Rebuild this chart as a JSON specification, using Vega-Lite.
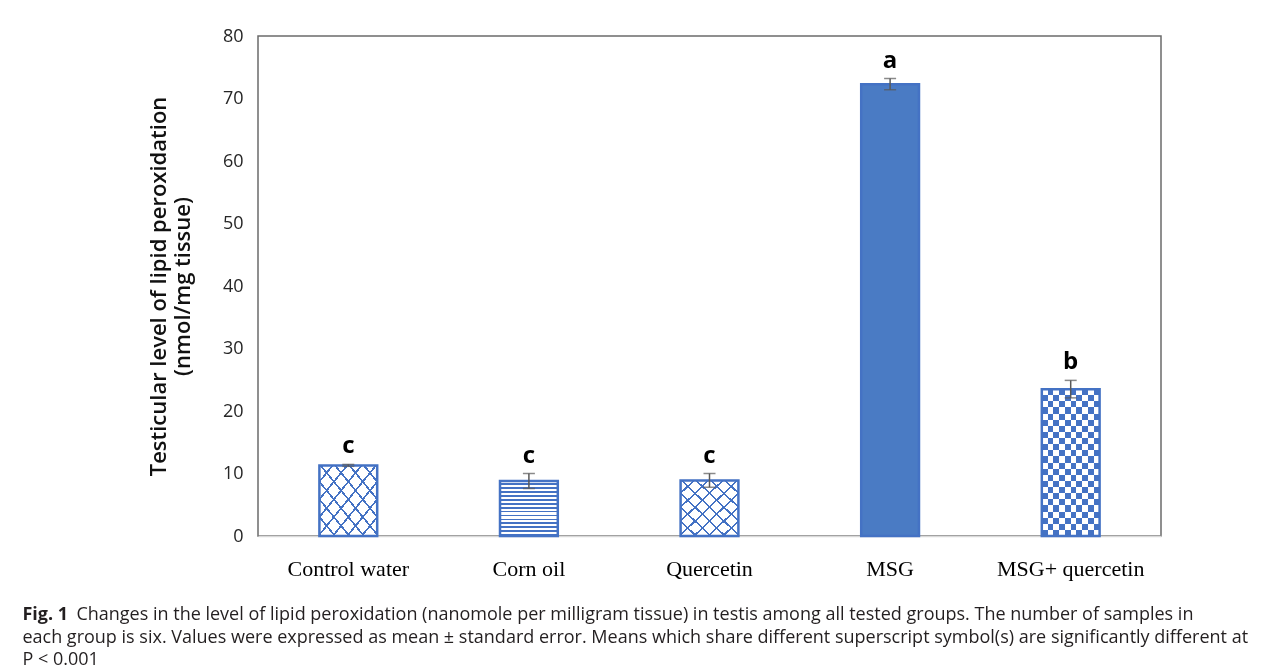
{
  "$schema": "https://vega.github.io/schema/vega-lite/v6.json",
  "width": 903,
  "height": 500,
  "padding": {"left": 22, "top": 27, "right": 5, "bottom": 5},
  "background": "white",
  "config": {
    "view": {"stroke": "#6b6b6b", "strokeWidth": 1.5}
  },
  "title": {
    "text": "Fig. 1",
    "subtitle": [
      "\u200b\u2003\u2003\u2003Changes in the level of lipid peroxidation (nanomole per milligram tissue) in testis among all tested groups. The number of samples in",
      "each group is six. Values were expressed as mean ± standard error. Means which share different superscript symbol(s) are significantly different at",
      "P < 0.001"
    ],
    "orient": "bottom",
    "anchor": "start",
    "frame": "bounds",
    "dx": -125,
    "offset": 27,
    "font": "Open Sans",
    "fontSize": 18,
    "fontWeight": "bold",
    "color": "#231f20",
    "subtitleFont": "Open Sans",
    "subtitleFontSize": 18,
    "subtitleColor": "#231f20",
    "subtitleLineHeight": 22.5,
    "subtitlePadding": -18
  },
  "data": {
    "values": [
      {"group": "Control water", "mean": 11.3, "lower": 11.15, "upper": 11.45, "letter": "c"},
      {"group": "Corn oil", "mean": 8.8, "lower": 7.6, "upper": 10.0, "letter": "c"},
      {"group": "Quercetin", "mean": 8.9, "lower": 7.8, "upper": 10.0, "letter": "c"},
      {"group": "MSG", "mean": 72.3, "lower": 71.4, "upper": 73.2, "letter": "a"},
      {"group": "MSG+ quercetin", "mean": 23.5, "lower": 22.1, "upper": 24.9, "letter": "b"}
    ]
  },
  "encoding": {
    "x": {
      "field": "group",
      "type": "nominal",
      "sort": ["Control water", "Corn oil", "Quercetin", "MSG", "MSG+ quercetin"],
      "scale": {"paddingInner": 0, "paddingOuter": 0},
      "axis": {
        "title": null,
        "labelAngle": 0,
        "labelFont": "Liberation Serif",
        "labelFontSize": 22,
        "labelColor": "#000000",
        "labelPadding": 22,
        "ticks": false,
        "tickSize": 0,
        "domainColor": "#d9d9d9",
        "domainWidth": 1.5
      }
    }
  },
  "layer": [
    {
      "transform": [{"filter": "datum.group === 'Control water' || datum.group === 'Quercetin'"}],
      "mark": {"type": "bar", "width": {"band": 0.32}, "fill": "#ffffff"},
      "encoding": {
        "y": {
          "field": "mean",
          "type": "quantitative",
          "scale": {"domain": [0, 80]},
          "axis": {
            "values": [0, 10, 20, 30, 40, 50, 60, 70, 80],
            "grid": false,
            "ticks": false,
            "tickSize": 0,
            "domain": false,
            "labelFont": "Open Sans",
            "labelFontSize": 18,
            "labelColor": "#262626",
            "labelPadding": 15,
            "title": ["Testicular level of lipid peroxidation", "(nmol/mg tissue)"],
            "titleFont": "Open Sans",
            "titleFontSize": 22,
            "titleFontWeight": 600,
            "titleColor": "#111111",
            "titlePadding": 28
          }
        }
      }
    },
    {
      "transform": [{"filter": "datum.group === 'Corn oil'"}],
      "mark": {
        "type": "bar",
        "width": {"band": 0.32},
        "fill": {
          "gradient": "linear", "x1": 0, "y1": 0, "x2": 0, "y2": 1,
          "stops": [
            {"offset": 0, "color": "#ffffff"}, {"offset": 0.0393, "color": "#ffffff"}, {"offset": 0.0393, "color": "#4472c4"}, {"offset": 0.0714, "color": "#4472c4"},
            {"offset": 0.0714, "color": "#ffffff"}, {"offset": 0.1107, "color": "#ffffff"}, {"offset": 0.1107, "color": "#4472c4"}, {"offset": 0.1429, "color": "#4472c4"},
            {"offset": 0.1429, "color": "#ffffff"}, {"offset": 0.1821, "color": "#ffffff"}, {"offset": 0.1821, "color": "#4472c4"}, {"offset": 0.2143, "color": "#4472c4"},
            {"offset": 0.2143, "color": "#ffffff"}, {"offset": 0.2536, "color": "#ffffff"}, {"offset": 0.2536, "color": "#4472c4"}, {"offset": 0.2857, "color": "#4472c4"},
            {"offset": 0.2857, "color": "#ffffff"}, {"offset": 0.325, "color": "#ffffff"}, {"offset": 0.325, "color": "#4472c4"}, {"offset": 0.3571, "color": "#4472c4"},
            {"offset": 0.3571, "color": "#ffffff"}, {"offset": 0.3964, "color": "#ffffff"}, {"offset": 0.3964, "color": "#4472c4"}, {"offset": 0.4286, "color": "#4472c4"},
            {"offset": 0.4286, "color": "#ffffff"}, {"offset": 0.4679, "color": "#ffffff"}, {"offset": 0.4679, "color": "#4472c4"}, {"offset": 0.5, "color": "#4472c4"},
            {"offset": 0.5, "color": "#ffffff"}, {"offset": 0.5393, "color": "#ffffff"}, {"offset": 0.5393, "color": "#4472c4"}, {"offset": 0.5714, "color": "#4472c4"},
            {"offset": 0.5714, "color": "#ffffff"}, {"offset": 0.6107, "color": "#ffffff"}, {"offset": 0.6107, "color": "#4472c4"}, {"offset": 0.6429, "color": "#4472c4"},
            {"offset": 0.6429, "color": "#ffffff"}, {"offset": 0.6821, "color": "#ffffff"}, {"offset": 0.6821, "color": "#4472c4"}, {"offset": 0.7143, "color": "#4472c4"},
            {"offset": 0.7143, "color": "#ffffff"}, {"offset": 0.7536, "color": "#ffffff"}, {"offset": 0.7536, "color": "#4472c4"}, {"offset": 0.7857, "color": "#4472c4"},
            {"offset": 0.7857, "color": "#ffffff"}, {"offset": 0.825, "color": "#ffffff"}, {"offset": 0.825, "color": "#4472c4"}, {"offset": 0.8571, "color": "#4472c4"},
            {"offset": 0.8571, "color": "#ffffff"}, {"offset": 0.8964, "color": "#ffffff"}, {"offset": 0.8964, "color": "#4472c4"}, {"offset": 0.9286, "color": "#4472c4"},
            {"offset": 0.9286, "color": "#ffffff"}, {"offset": 0.9679, "color": "#ffffff"}, {"offset": 0.9679, "color": "#4472c4"}, {"offset": 1, "color": "#4472c4"}
          ]
        }
      },
      "encoding": {"y": {"field": "mean", "type": "quantitative"}}
    },
    {
      "transform": [{"filter": "datum.group === 'MSG'"}],
      "mark": {"type": "bar", "width": {"band": 0.32}, "fill": "#4a7bc4"},
      "encoding": {"y": {"field": "mean", "type": "quantitative"}}
    },
    {
      "transform": [{"filter": "datum.group === 'MSG+ quercetin'"}],
      "mark": {
        "type": "bar",
        "width": {"band": 0.32},
        "fill": {
          "gradient": "linear", "x1": 0, "y1": 0, "x2": 1, "y2": 0,
          "stops": [
            {"offset": 0, "color": "#000000"}, {"offset": 0.1, "color": "#000000"}, {"offset": 0.1, "color": "#ffffff"}, {"offset": 0.2, "color": "#ffffff"},
            {"offset": 0.2, "color": "#000000"}, {"offset": 0.3, "color": "#000000"}, {"offset": 0.3, "color": "#ffffff"}, {"offset": 0.4, "color": "#ffffff"},
            {"offset": 0.4, "color": "#000000"}, {"offset": 0.5, "color": "#000000"}, {"offset": 0.5, "color": "#ffffff"}, {"offset": 0.6, "color": "#ffffff"},
            {"offset": 0.6, "color": "#000000"}, {"offset": 0.7, "color": "#000000"}, {"offset": 0.7, "color": "#ffffff"}, {"offset": 0.8, "color": "#ffffff"},
            {"offset": 0.8, "color": "#000000"}, {"offset": 0.9, "color": "#000000"}, {"offset": 0.9, "color": "#ffffff"}, {"offset": 1, "color": "#ffffff"}
          ]
        }
      },
      "encoding": {"y": {"field": "mean", "type": "quantitative"}}
    },
    {
      "transform": [{"filter": "datum.group === 'MSG+ quercetin'"}],
      "mark": {
        "type": "bar",
        "width": {"band": 0.32},
        "blend": "difference",
        "fill": {
          "gradient": "linear", "x1": 0, "y1": 0, "x2": 0, "y2": 1,
          "stops": [
            {"offset": 0, "color": "rgba(255,255,255,1)"}, {"offset": 0.0417, "color": "rgba(255,255,255,1)"}, {"offset": 0.0417, "color": "rgba(255,255,255,0)"}, {"offset": 0.0833, "color": "rgba(255,255,255,0)"},
            {"offset": 0.0833, "color": "rgba(255,255,255,1)"}, {"offset": 0.125, "color": "rgba(255,255,255,1)"}, {"offset": 0.125, "color": "rgba(255,255,255,0)"}, {"offset": 0.1667, "color": "rgba(255,255,255,0)"},
            {"offset": 0.1667, "color": "rgba(255,255,255,1)"}, {"offset": 0.2083, "color": "rgba(255,255,255,1)"}, {"offset": 0.2083, "color": "rgba(255,255,255,0)"}, {"offset": 0.25, "color": "rgba(255,255,255,0)"},
            {"offset": 0.25, "color": "rgba(255,255,255,1)"}, {"offset": 0.2917, "color": "rgba(255,255,255,1)"}, {"offset": 0.2917, "color": "rgba(255,255,255,0)"}, {"offset": 0.3333, "color": "rgba(255,255,255,0)"},
            {"offset": 0.3333, "color": "rgba(255,255,255,1)"}, {"offset": 0.375, "color": "rgba(255,255,255,1)"}, {"offset": 0.375, "color": "rgba(255,255,255,0)"}, {"offset": 0.4167, "color": "rgba(255,255,255,0)"},
            {"offset": 0.4167, "color": "rgba(255,255,255,1)"}, {"offset": 0.4583, "color": "rgba(255,255,255,1)"}, {"offset": 0.4583, "color": "rgba(255,255,255,0)"}, {"offset": 0.5, "color": "rgba(255,255,255,0)"},
            {"offset": 0.5, "color": "rgba(255,255,255,1)"}, {"offset": 0.5417, "color": "rgba(255,255,255,1)"}, {"offset": 0.5417, "color": "rgba(255,255,255,0)"}, {"offset": 0.5833, "color": "rgba(255,255,255,0)"},
            {"offset": 0.5833, "color": "rgba(255,255,255,1)"}, {"offset": 0.625, "color": "rgba(255,255,255,1)"}, {"offset": 0.625, "color": "rgba(255,255,255,0)"}, {"offset": 0.6667, "color": "rgba(255,255,255,0)"},
            {"offset": 0.6667, "color": "rgba(255,255,255,1)"}, {"offset": 0.7083, "color": "rgba(255,255,255,1)"}, {"offset": 0.7083, "color": "rgba(255,255,255,0)"}, {"offset": 0.75, "color": "rgba(255,255,255,0)"},
            {"offset": 0.75, "color": "rgba(255,255,255,1)"}, {"offset": 0.7917, "color": "rgba(255,255,255,1)"}, {"offset": 0.7917, "color": "rgba(255,255,255,0)"}, {"offset": 0.8333, "color": "rgba(255,255,255,0)"},
            {"offset": 0.8333, "color": "rgba(255,255,255,1)"}, {"offset": 0.875, "color": "rgba(255,255,255,1)"}, {"offset": 0.875, "color": "rgba(255,255,255,0)"}, {"offset": 0.9167, "color": "rgba(255,255,255,0)"},
            {"offset": 0.9167, "color": "rgba(255,255,255,1)"}, {"offset": 0.9583, "color": "rgba(255,255,255,1)"}, {"offset": 0.9583, "color": "rgba(255,255,255,0)"}, {"offset": 1, "color": "rgba(255,255,255,0)"}
          ]
        }
      },
      "encoding": {"y": {"field": "mean", "type": "quantitative"}}
    },
    {
      "transform": [{"filter": "datum.group === 'MSG+ quercetin'"}],
      "mark": {"type": "bar", "width": {"band": 0.32}, "fill": "#4472c4", "blend": "screen"},
      "encoding": {"y": {"field": "mean", "type": "quantitative"}}
    },
    {
      "transform": [{"filter": "datum.group === 'Control water' || datum.group === 'Quercetin'"}],
      "mark": {
        "type": "bar",
        "width": {"band": 0.32},
        "fill": {
          "gradient": "linear", "x1": 0, "y1": 0, "x2": 1, "y2": 1,
          "stops": [
            {"offset": 0, "color": "rgba(68,114,196,0)"}, {"offset": 0.106, "color": "rgba(68,114,196,0)"}, {"offset": 0.106, "color": "rgba(68,114,196,1)"}, {"offset": 0.125, "color": "rgba(68,114,196,1)"},
            {"offset": 0.125, "color": "rgba(68,114,196,0)"}, {"offset": 0.231, "color": "rgba(68,114,196,0)"}, {"offset": 0.231, "color": "rgba(68,114,196,1)"}, {"offset": 0.25, "color": "rgba(68,114,196,1)"},
            {"offset": 0.25, "color": "rgba(68,114,196,0)"}, {"offset": 0.356, "color": "rgba(68,114,196,0)"}, {"offset": 0.356, "color": "rgba(68,114,196,1)"}, {"offset": 0.375, "color": "rgba(68,114,196,1)"},
            {"offset": 0.375, "color": "rgba(68,114,196,0)"}, {"offset": 0.481, "color": "rgba(68,114,196,0)"}, {"offset": 0.481, "color": "rgba(68,114,196,1)"}, {"offset": 0.5, "color": "rgba(68,114,196,1)"},
            {"offset": 0.5, "color": "rgba(68,114,196,0)"}, {"offset": 0.606, "color": "rgba(68,114,196,0)"}, {"offset": 0.606, "color": "rgba(68,114,196,1)"}, {"offset": 0.625, "color": "rgba(68,114,196,1)"},
            {"offset": 0.625, "color": "rgba(68,114,196,0)"}, {"offset": 0.731, "color": "rgba(68,114,196,0)"}, {"offset": 0.731, "color": "rgba(68,114,196,1)"}, {"offset": 0.75, "color": "rgba(68,114,196,1)"},
            {"offset": 0.75, "color": "rgba(68,114,196,0)"}, {"offset": 0.856, "color": "rgba(68,114,196,0)"}, {"offset": 0.856, "color": "rgba(68,114,196,1)"}, {"offset": 0.875, "color": "rgba(68,114,196,1)"},
            {"offset": 0.875, "color": "rgba(68,114,196,0)"}, {"offset": 0.981, "color": "rgba(68,114,196,0)"}, {"offset": 0.981, "color": "rgba(68,114,196,1)"}, {"offset": 1, "color": "rgba(68,114,196,1)"}
          ]
        }
      },
      "encoding": {"y": {"field": "mean", "type": "quantitative"}}
    },
    {
      "transform": [{"filter": "datum.group === 'Control water' || datum.group === 'Quercetin'"}],
      "mark": {
        "type": "bar",
        "width": {"band": 0.32},
        "fill": {
          "gradient": "linear", "x1": 1, "y1": 0, "x2": 0, "y2": 1,
          "stops": [
            {"offset": 0, "color": "rgba(68,114,196,0)"}, {"offset": 0.106, "color": "rgba(68,114,196,0)"}, {"offset": 0.106, "color": "rgba(68,114,196,1)"}, {"offset": 0.125, "color": "rgba(68,114,196,1)"},
            {"offset": 0.125, "color": "rgba(68,114,196,0)"}, {"offset": 0.231, "color": "rgba(68,114,196,0)"}, {"offset": 0.231, "color": "rgba(68,114,196,1)"}, {"offset": 0.25, "color": "rgba(68,114,196,1)"},
            {"offset": 0.25, "color": "rgba(68,114,196,0)"}, {"offset": 0.356, "color": "rgba(68,114,196,0)"}, {"offset": 0.356, "color": "rgba(68,114,196,1)"}, {"offset": 0.375, "color": "rgba(68,114,196,1)"},
            {"offset": 0.375, "color": "rgba(68,114,196,0)"}, {"offset": 0.481, "color": "rgba(68,114,196,0)"}, {"offset": 0.481, "color": "rgba(68,114,196,1)"}, {"offset": 0.5, "color": "rgba(68,114,196,1)"},
            {"offset": 0.5, "color": "rgba(68,114,196,0)"}, {"offset": 0.606, "color": "rgba(68,114,196,0)"}, {"offset": 0.606, "color": "rgba(68,114,196,1)"}, {"offset": 0.625, "color": "rgba(68,114,196,1)"},
            {"offset": 0.625, "color": "rgba(68,114,196,0)"}, {"offset": 0.731, "color": "rgba(68,114,196,0)"}, {"offset": 0.731, "color": "rgba(68,114,196,1)"}, {"offset": 0.75, "color": "rgba(68,114,196,1)"},
            {"offset": 0.75, "color": "rgba(68,114,196,0)"}, {"offset": 0.856, "color": "rgba(68,114,196,0)"}, {"offset": 0.856, "color": "rgba(68,114,196,1)"}, {"offset": 0.875, "color": "rgba(68,114,196,1)"},
            {"offset": 0.875, "color": "rgba(68,114,196,0)"}, {"offset": 0.981, "color": "rgba(68,114,196,0)"}, {"offset": 0.981, "color": "rgba(68,114,196,1)"}, {"offset": 1, "color": "rgba(68,114,196,1)"}
          ]
        }
      },
      "encoding": {"y": {"field": "mean", "type": "quantitative"}}
    },
    {
      "mark": {"type": "bar", "width": {"band": 0.32}, "fill": "transparent", "stroke": "#4472c4", "strokeWidth": 2.5},
      "encoding": {"y": {"field": "mean", "type": "quantitative"}}
    },
    {
      "mark": {"type": "rule", "color": "#595959", "strokeWidth": 1.5},
      "encoding": {
        "y": {"field": "lower", "type": "quantitative"},
        "y2": {"field": "upper"}
      }
    },
    {
      "mark": {"type": "tick", "color": "#595959", "size": 12, "thickness": 1.5, "orient": "horizontal"},
      "encoding": {"y": {"field": "upper", "type": "quantitative"}}
    },
    {
      "mark": {"type": "tick", "color": "#595959", "size": 12, "thickness": 1.5, "orient": "horizontal"},
      "encoding": {"y": {"field": "lower", "type": "quantitative"}}
    },
    {
      "mark": {"type": "text", "font": "Open Sans", "fontSize": 24, "fontWeight": "bold", "color": "#000000", "baseline": "alphabetic", "dy": -11},
      "encoding": {
        "y": {"field": "upper", "type": "quantitative"},
        "text": {"field": "letter"}
      }
    }
  ]
}
